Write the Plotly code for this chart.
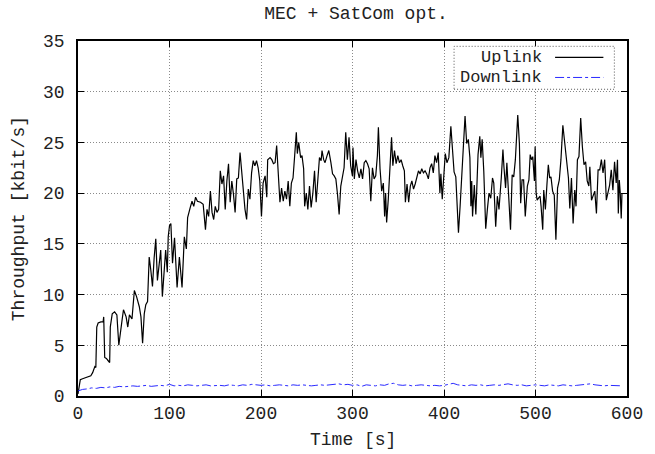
import plotly.graph_objects as go

# Uplink throughput (time [s], kbit/s)
ul_t = [0, 1.5, 2.5, 5, 8, 11, 14, 16, 18.4, 19.5, 20.5, 22, 25, 27.4, 28.1, 29.2, 31, 32.8, 34.6, 35.3,
        37.4, 40, 42.5, 44.6, 46.5, 48.2, 49.7, 52.6, 54.4, 56.2, 59, 61.6, 64, 67, 68.8, 70.6, 72.4, 74.1,
        76, 77.8, 79.6, 81.4, 83.2, 85, 86.8, 88.6, 90.4, 92.2, 94, 95.8, 97.6, 98.6, 100, 101.5, 103.3,
        105.5, 108.3, 110.8, 113.7, 116.2, 118.4, 119.8, 122.7, 124.6, 126.5, 128.5, 130.5, 133.9, 136.8,
        139.3, 141, 142.8, 144.7, 146.5, 148.3, 150, 151.9, 153.7, 155.5, 157.3, 159.1, 160.9, 162.7, 164.5,
        166.3, 168.1, 169.9, 171.7, 173.5, 175.3, 177.1, 178.9, 180.7, 182.5, 184.3, 186.1, 187.9, 189.7,
        191.5, 193.3, 195.1, 196.9, 198.7, 200.5, 202.3, 204.5, 206.3, 207.3, 209.9, 211.8, 213.6, 215.4,
        217.1, 219, 220.7, 222.5, 224.3, 226.1, 227.9, 229.7, 231.5, 233.2, 235, 236.8, 238.6, 239.7, 241.2,
        243.3, 244.8, 246.6, 247.7, 249.5, 251.2, 253, 254.8, 256.7, 258.5, 260.3, 262.1, 263.9, 265.7,
        266.7, 268.5, 270, 272.2, 274.1, 276.4, 278.2, 280, 281.8, 283.6, 285.4, 287.2, 289, 290.8, 292.6,
        294.4, 296.2, 298, 299.9, 300.5, 302, 303.8, 305.6, 307.4, 309.2, 311, 312.8, 314.6, 316.4, 318.2,
        320, 321.8, 323.6, 325.4, 327.2, 328.3, 330.1, 331.9, 333.7, 335.1, 336.2, 337.3, 339.1, 340.9,
        342.7, 344.1, 345.9, 347.7, 349.5, 351.3, 353.1, 354.9, 356.7, 357.8, 359.6, 361.4, 363.2, 364.9,
        366.7, 368.5, 370.3, 372.1, 373.9, 375.7, 377.5, 379.3, 381.1, 382.9, 384.7, 386.5, 388.3, 390.1,
        391.9, 393.7, 395.5, 396.6, 398.1, 400, 401.4, 403.2, 405.3, 407.5, 409.3, 411, 412.9, 414.7,
        415.8, 417.6, 419.4, 421.2, 423, 424.8, 426.6, 428.3, 429.4, 430.3, 431.2, 433.1, 434.8, 437.2,
        439.1, 440.3, 441.7, 443.5, 445.6, 447.4, 449.2, 451.1, 453, 454.4, 456.5, 458.3, 460.1, 462.6,
        464.4, 465.5, 467.3, 468.7, 470.5, 472.7, 474.5, 476.2, 478, 480.6, 482.4, 483.8, 485.3, 487,
        488.8, 491.1, 492.8, 494.2, 495.6, 497, 498.8, 499.6, 500.7, 501.8, 503.3, 505, 506.1, 507.9, 509,
        510.8, 512.6, 514, 515.5, 516.9, 518.7, 520.5, 522.3, 524.1, 526, 527.8, 529.9, 532, 533.8, 536,
        537.5, 539.3, 541.1, 542.9, 544.3, 545.8, 547.5, 549.4, 551.2, 553, 554.8, 556.5, 558.3, 559.4,
        561.2, 563, 564.8, 566.6, 568.4, 570.2, 572, 573.8, 575.6, 577.4, 579.2, 581, 582.8, 584.6, 586.4,
        588.2, 589.6, 590.5, 591.6, 592.6, 593.7, 594.5]
ul_v = [0.2, 1.3, 1.6, 1.7, 1.8, 1.9, 2.0, 2.3, 2.9, 2.8, 6.8, 7.2, 7.3, 7.3, 7.8, 3.8, 3.7, 3.5, 3.3, 6.8,
        8.1, 8.3, 8.0, 5.0, 6.6, 7.5, 8.5, 7.8, 6.8, 8.0, 7.6, 10.4, 9.8, 8.8, 7.8, 5.2, 8.1, 9.0,
        9.3, 13.7, 12.4, 10.8, 13.6, 15.5, 11.4, 12.7, 14.4, 9.8, 12.7, 14.4, 12.2, 15.7, 16.8, 17.0, 13.1,
        15.6, 10.7, 13.7, 10.7, 15.7, 14.5, 17.6, 18.6, 19.2, 18.7, 19.6, 19.2, 19.1, 18.9,
        16.4, 18.4, 17.7, 20.2, 18.1, 17.4, 18.7, 18.1, 18.4, 22.2, 20.9, 21.7, 18.4, 21.2, 22.9,
        19.1, 21.2, 19.9, 18.1, 21.4, 21.5, 24.0, 22.0, 20.5, 18.4, 17.4, 20.4, 19.4, 22.0,
        23.2, 22.7, 23.2, 22.5, 21.2, 17.7, 21.0, 21.7, 19.6, 23.3, 23.5, 23.3, 22.9, 23.0,
        24.7, 21.9, 19.1, 20.5, 19.2, 20.2, 19.4, 21.2, 18.7, 21.0, 21.5, 23.7, 26.0, 23.9, 25.0,
        23.5, 23.7, 22.4, 18.7, 20.0, 18.4, 20.7, 18.6, 20.0, 22.2, 19.1, 21.7, 23.5, 23.2,
        24.2, 23.3, 23.0, 23.7, 24.2, 23.0, 21.9, 21.7, 21.4, 19.9, 17.9, 20.7, 21.5, 22.5, 26.0,
        23.3, 25.5, 22.7, 21.7, 24.5, 21.4, 23.3, 22.2, 21.5, 22.4, 21.4, 23.0, 23.2, 22.9, 22.4,
        19.2, 22.5, 21.4, 21.7, 23.7, 26.5, 22.4, 20.2, 21.0, 17.7, 20.0, 17.1, 19.4, 22.4,
        25.5, 22.7, 24.2, 22.9, 23.7, 23.0, 23.3, 22.7, 22.2, 19.1, 20.9, 19.1, 20.7, 21.2,
        20.4, 20.9, 21.5, 22.2, 21.9, 22.4, 22.0, 22.2, 21.9, 21.4, 22.5, 22.9, 22.0, 23.7,
        23.0, 24.0, 20.0, 21.9, 19.4, 22.0, 23.9, 23.0, 23.5, 26.6, 23.9, 22.1, 21.6, 18.7,
        16.1, 18.7, 21.5, 24.9, 27.6, 24.9, 25.3, 23.5, 18.7, 21.2, 17.7, 20.8, 17.9, 23.8,
        25.6, 23.5, 25.3, 22.1, 16.5, 18.4, 20.0, 19.5, 21.5, 21.0, 16.7, 19.7, 18.4, 21.5,
        24.3, 22.6, 20.5, 23.0, 20.0, 16.4, 21.8, 21.6, 23.3, 27.7, 24.9, 19.0, 21.3, 21.3,
        17.7, 20.7, 21.3, 23.8, 23.3, 23.6, 21.2, 24.6, 20.0, 19.3, 19.5, 19.7, 18.7, 16.4, 20.3,
        18.4, 21.0, 22.8, 21.5, 21.6, 20.2, 19.8, 15.4, 20.5, 21.3, 23.3, 26.7, 24.9, 23.5, 21.5,
        18.5, 21.5, 17.0, 20.3, 18.7, 23.3, 23.6, 27.4, 24.6, 22.8, 23.1, 21.2, 20.7, 22.6,
        19.3, 19.8, 20.2, 18.0, 22.3, 22.3, 23.3, 22.0, 23.3, 19.3, 20.2, 20.8, 22.3, 20.3, 23.1,
        21.0, 23.3, 18.0, 21.3, 20.0, 17.5, 20.0]

# Downlink throughput every 5 s
dl_t = list(range(0, 600, 5))
dl_v = [0.5, 0.65, 0.7, 0.8, 0.75, 0.85, 0.8, 0.9, 0.85, 0.95, 0.9, 0.95, 1.0, 0.95, 1.0, 1.05, 0.95, 1.0,
        1.05, 1.0, 1.15, 1.0, 1.05, 1.0, 1.1, 1.05, 1.0, 1.05, 1.1, 1.0, 1.05, 1.05, 1.0, 1.1, 1.05, 1.0,
        1.1, 1.05, 1.15, 1.1, 1.05, 1.1, 1.0, 1.05, 1.1, 1.05, 1.0, 1.1, 1.05, 1.1, 1.05, 1.0, 1.05, 1.1,
        1.05, 1.1, 1.15, 1.2, 1.1, 1.15, 1.05, 1.1, 0.95, 1.1, 1.05, 1.0, 1.1, 1.05, 1.2, 1.25, 1.1, 1.05,
        1.1, 1.0, 1.05, 1.1, 1.05, 1.0, 1.05, 1.0, 1.05, 1.15, 1.25, 1.1, 1.05, 1.0, 1.1, 1.05, 1.1, 1.0,
        1.05, 1.1, 1.05, 1.15, 1.2, 1.1, 1.05, 1.1, 1.0, 1.05, 1.1, 1.05, 1.0, 1.1, 1.05, 1.0, 1.1, 1.05,
        1.0, 1.05, 1.1, 1.15, 1.2, 1.1, 1.05, 1.0, 1.05, 1.05, 1.0, 1.0]

x_ticks = [0, 100, 200, 300, 400, 500, 600]
y_ticks = [0, 5, 10, 15, 20, 25, 30, 35]

FONT = "Liberation Mono, Courier New, monospace"
FS = 18
LFS = 17
TXT = "#222"

fig = go.Figure()
fig.add_trace(go.Scatter(x=ul_t, y=ul_v, mode="lines", name="Uplink",
                         line=dict(color="black", width=1.2)))
fig.add_trace(go.Scatter(x=dl_t, y=dl_v, mode="lines", name="Downlink",
                         line=dict(color="#2a2aff", width=1, dash="dashdot")))

axis_common = dict(showline=True, linecolor="black", linewidth=1.5, mirror="allticks",
                   ticks="inside", ticklen=6, tickcolor="black", tickwidth=1,
                   showgrid=True, gridcolor="#8a8a8a", griddash="1px,2px", gridwidth=1,
                   zeroline=False, tickfont=dict(family=FONT, size=FS, color=TXT))

fig.update_xaxes(range=[0, 600], tickvals=x_ticks, **axis_common)
fig.update_yaxes(range=[0, 35], tickvals=y_ticks, ticklabelstandoff=8, **axis_common)

# Legend drawn in gnuplot style (text right-aligned, sample to the right)
shapes = [
    dict(type="rect", xref="paper", yref="paper", x0=0.685, x1=0.977, y0=0.864, y1=0.985,
         line=dict(color="#555", width=1, dash="1px,2px"), fillcolor="white", layer="above"),
    dict(type="line", xref="paper", yref="paper", x0=0.869, x1=0.957, y0=0.9536, y1=0.9536,
         line=dict(color="black", width=1.2), layer="above"),
    dict(type="line", xref="paper", yref="paper", x0=0.869, x1=0.957, y0=0.8973, y1=0.8973,
         line=dict(color="#2a2aff", width=1, dash="dashdot"), layer="above"),
]
annotations = [
    dict(text="Uplink", xref="paper", yref="paper", x=0.849, y=0.9536, xanchor="right", yanchor="middle",
         showarrow=False, font=dict(family=FONT, size=LFS, color=TXT)),
    dict(text="Downlink", xref="paper", yref="paper", x=0.849, y=0.8973, xanchor="right", yanchor="middle",
         showarrow=False, font=dict(family=FONT, size=LFS, color=TXT)),
    dict(text="Time [s]", xref="paper", yref="paper", x=0.5, y=-0.125, xanchor="center", yanchor="middle",
         showarrow=False, font=dict(family=FONT, size=FS, color=TXT)),
    dict(text="Throughput [kbit/s]", xref="paper", yref="paper", x=-0.108, y=0.5, textangle=-90,
         xanchor="center", yanchor="middle", showarrow=False, font=dict(family=FONT, size=FS, color=TXT)),
]

fig.update_layout(
    width=655, height=454,
    margin=dict(l=78, r=21, t=40.5, b=58),
    paper_bgcolor="white", plot_bgcolor="white",
    showlegend=False,
    title=dict(text="MEC + SatCom opt.", x=0.5435, xanchor="center", y=0.971, yanchor="middle",
               font=dict(family=FONT, size=FS, color=TXT)),
    shapes=shapes, annotations=annotations,
)

fig.write_html("out.html")
